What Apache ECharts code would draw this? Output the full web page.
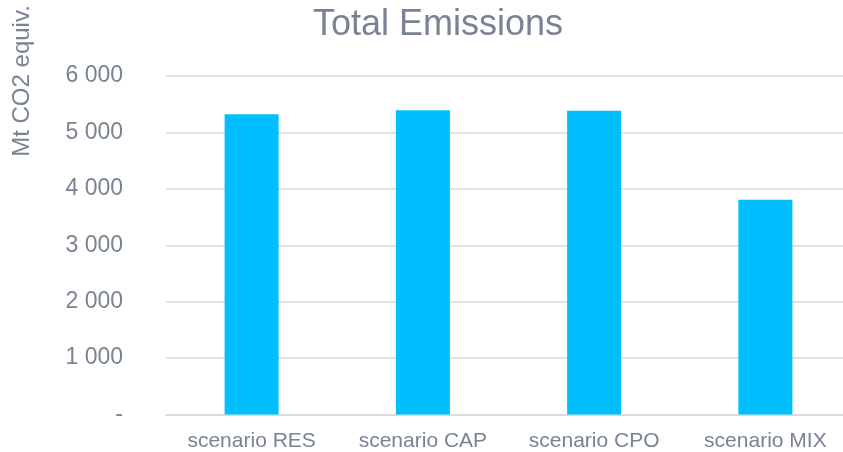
<!DOCTYPE html>
<html>
<head>
<meta charset="utf-8">
<script src="https://cdn.jsdelivr.net/npm/echarts@6/dist/echarts.min.js"></script>
<style>
html,body{margin:0;padding:0;background:#fff;}
#chart{width:843px;height:452px;}
</style>
</head>
<body>
<div id="chart"></div>
<script>
const chartTitle = 'Total Emissions';
const yAxisTitle = 'Mt CO2 equiv.';
const categories = ['scenario RES', 'scenario CAP', 'scenario CPO', 'scenario MIX'];
const emissions = [5322, 5395, 5383, 3805];
const yTicks = [0, 1000, 2000, 3000, 4000, 5000, 6000];

const textColor = '#7a8393';
const chart = echarts.init(document.getElementById('chart'), null, {renderer: 'canvas'});

function fmt(v) {
  if (v === 0) return '-';
  return String(v).replace(/\B(?=(\d{3})+(?!\d))/g, ' ');
}

chart.setOption({
  animation: false,
  backgroundColor: '#ffffff',
  title: {
    text: chartTitle,
    left: 433,
    top: 2,
    textAlign: 'center',
    textStyle: {
      fontFamily: 'Liberation Sans, Arial, sans-serif',
      fontSize: 36,
      fontWeight: 'normal',
      color: textColor
    }
  },
  graphic: [{
    type: 'text',
    x: 22,
    y: 81,
    rotation: Math.PI / 2,
    style: {
      text: yAxisTitle,
      fill: textColor,
      font: '24px "Liberation Sans", Arial, sans-serif',
      textAlign: 'center',
      textVerticalAlign: 'middle'
    }
  }],
  grid: {
    left: 166,
    right: -8,
    top: 76,
    bottom: 37.5,
    containLabel: false,
    outerBoundsMode: 'none'
  },
  xAxis: {
    type: 'category',
    data: categories,
    axisTick: {show: false},
    axisLine: {show: true, lineStyle: {color: '#d9d9d9', width: 1.5}},
    axisLabel: {
      interval: 0,
      margin: 16,
      color: textColor,
      fontSize: 21,
      fontFamily: '"Liberation Sans", Arial, sans-serif'
    }
  },
  yAxis: {
    type: 'value',
    min: yTicks[0],
    max: yTicks[yTicks.length - 1],
    interval: yTicks[1] - yTicks[0],
    axisLine: {show: false},
    axisTick: {show: false},
    splitLine: {lineStyle: {color: '#d9d9d9', width: 1.5}},
    axisLabel: {
      margin: 43,
      color: textColor,
      fontSize: 23,
      fontFamily: '"Liberation Sans", Arial, sans-serif',
      formatter: fmt
    }
  },
  series: [{
    type: 'bar',
    data: emissions,
    barWidth: 54,
    itemStyle: {color: '#00bfff'}
  }]
});
</script>
</body>
</html>
